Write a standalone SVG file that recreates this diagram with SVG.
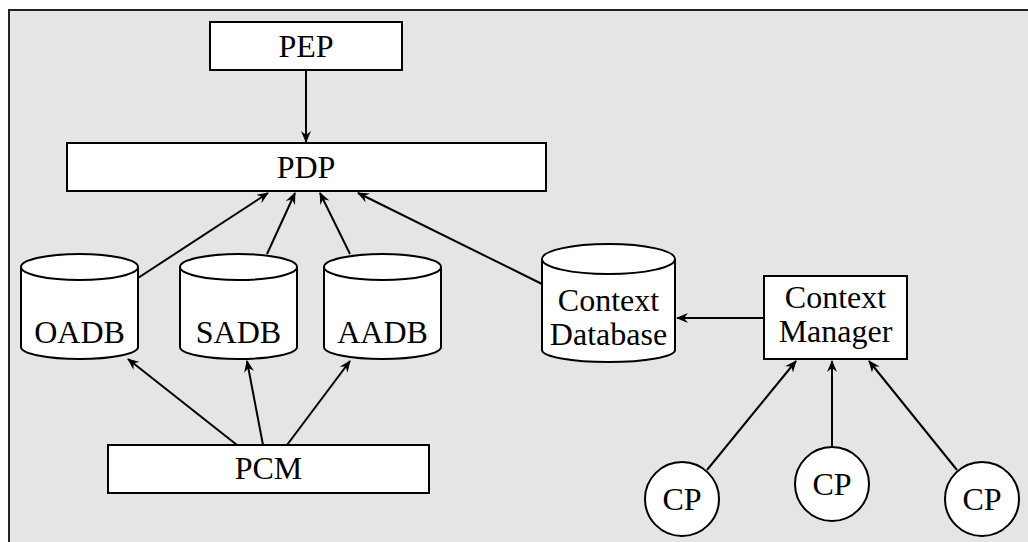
<svg xmlns="http://www.w3.org/2000/svg" width="1028" height="542" viewBox="0 0 1028 542">
  <style>
    .box { fill: #ffffff; stroke: #000000; stroke-width: 2; }
    .lbl { font-family: 'Liberation Serif', 'Times New Roman', Times, serif; font-size: 32px; fill: #000000; text-anchor: middle; }
    .edge { fill: none; stroke: #000000; stroke-width: 2; marker-end: url(#arrow); }
  </style>
  <defs>
    <marker id="arrow" viewBox="0 0 12 10" refX="11" refY="5" markerWidth="12" markerHeight="10" markerUnits="userSpaceOnUse" orient="auto">
      <path d="M0,0 L12,5 L0,10 L4,5 z" fill="#000000"/>
    </marker>
  </defs>

  <!-- frame -->
  <rect x="9" y="10" width="1030" height="560" fill="#e5e5e5" stroke="#222222" stroke-width="2"/>

  <!-- connectors -->
  <g id="connectors">
    <line class="edge" x1="306" y1="70" x2="306" y2="142"/>
    <line class="edge" x1="138" y1="278" x2="268" y2="193"/>
    <line class="edge" x1="267" y1="254" x2="295" y2="193"/>
    <line class="edge" x1="350" y1="254" x2="320" y2="193"/>
    <line class="edge" x1="542" y1="284" x2="358" y2="193"/>
    <line class="edge" x1="237" y1="445" x2="128" y2="359"/>
    <line class="edge" x1="263" y1="445" x2="247" y2="361"/>
    <line class="edge" x1="287" y1="445" x2="350" y2="361"/>
    <line class="edge" x1="764" y1="318" x2="677" y2="318"/>
    <line class="edge" x1="707" y1="470" x2="796" y2="361"/>
    <line class="edge" x1="832" y1="447" x2="832" y2="361"/>
    <line class="edge" x1="957" y1="470" x2="869" y2="361"/>
  </g>

  <g id="pep">
    <rect class="box" x="210" y="22" width="192" height="48"/>
    <text class="lbl" x="306" y="57">PEP</text>
  </g>

  <g id="pdp">
    <rect class="box" x="67" y="143" width="479" height="48"/>
    <text class="lbl" x="306" y="178">PDP</text>
  </g>

  <g id="oadb">
    <path class="box" d="M21,267 L21,347 A58.5,12 0 0 0 138,347 L138,267"/>
    <ellipse class="box" cx="79.5" cy="267" rx="58.5" ry="13"/>
    <text class="lbl" x="79.5" y="343">OADB</text>
  </g>

  <g id="sadb">
    <path class="box" d="M180,267 L180,347 A58.5,12 0 0 0 297,347 L297,267"/>
    <ellipse class="box" cx="238.5" cy="267" rx="58.5" ry="13"/>
    <text class="lbl" x="238.5" y="343">SADB</text>
  </g>

  <g id="aadb">
    <path class="box" d="M324,267 L324,347 A58.5,12 0 0 0 441,347 L441,267"/>
    <ellipse class="box" cx="382.5" cy="267" rx="58.5" ry="13"/>
    <text class="lbl" x="382.5" y="343">AADB</text>
  </g>

  <g id="context-database">
    <path class="box" d="M542,259 L542,350 A66.5,12 0 0 0 675,350 L675,259"/>
    <ellipse class="box" cx="608.5" cy="259" rx="66.5" ry="15"/>
    <text class="lbl" x="608.5" y="311">Context</text>
    <text class="lbl" x="608.5" y="345">Database</text>
  </g>

  <g id="context-manager">
    <rect class="box" x="764" y="276" width="143" height="83"/>
    <text class="lbl" x="835.5" y="308">Context</text>
    <text class="lbl" x="835.5" y="342">Manager</text>
  </g>

  <g id="pcm">
    <rect class="box" x="108" y="445" width="321" height="48"/>
    <text class="lbl" x="268.5" y="479">PCM</text>
  </g>

  <g id="cp-1">
    <circle class="box" cx="682" cy="499" r="37"/>
    <text class="lbl" x="682" y="510">CP</text>
  </g>

  <g id="cp-2">
    <circle class="box" cx="832" cy="484" r="37"/>
    <text class="lbl" x="832" y="495">CP</text>
  </g>

  <g id="cp-3">
    <circle class="box" cx="982" cy="499" r="37"/>
    <text class="lbl" x="982" y="510">CP</text>
  </g>
</svg>
